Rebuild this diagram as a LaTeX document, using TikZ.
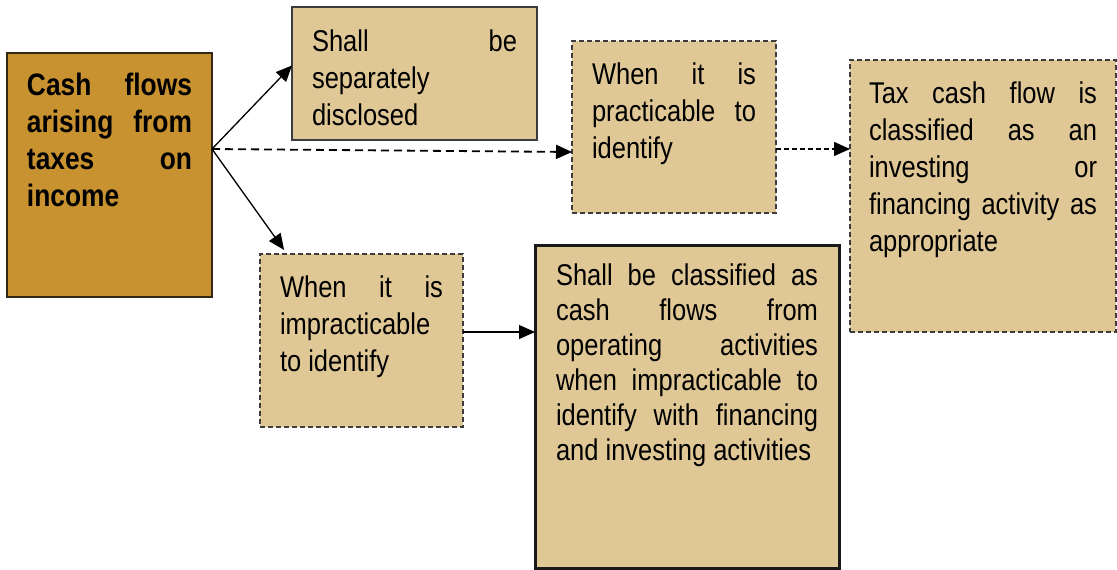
\documentclass[tikz,border=0pt]{standalone}
\usepackage{fontspec}
\setmainfont[FakeStretch=0.85]{Liberation Sans}
\usetikzlibrary{arrows.meta,calc}
\definecolor{gold}{RGB}{200,146,48}
\definecolor{sand}{RGB}{224,200,150}
\definecolor{edge}{RGB}{60,60,60}
\definecolor{darkedge}{RGB}{50,38,20}
\newcommand\boxtext[4]{\parbox[c][#2][t]{#1}{\rule{0pt}{#3}#4}}
\newcommand\J[1]{\makebox[\linewidth][s]{#1}}
\tikzset{
  boxbase/.style={anchor=north west, inner xsep=20pt, inner ysep=0pt, outer sep=0pt, fill=sand, text=black,
    font=\fontsize{30}{37}\selectfont},
  mainbox/.style={boxbase, fill=gold, draw=darkedge, line width=1.3pt, font=\fontsize{31}{37}\selectfont\bfseries},
  solidbox/.style={boxbase, draw=edge, line width=1.3pt},
  dashbox/.style={boxbase, draw=edge, line width=1.2pt, dash pattern=on 5pt off 3pt},
  thickbox/.style={boxbase, draw=black!90, line width=3pt, inner xsep=21pt, font=\fontsize{30}{35}\selectfont},
  arr/.style={-{Triangle[length=16pt,width=14pt]}, line width=1.3pt, black},
  dashmain/.style={dash pattern=on 8pt off 5pt, line width=1.8pt},
  dashfine/.style={dash pattern=on 5pt off 3pt, line width=1.3pt},
}
\begin{document}
\begin{tikzpicture}[x=1pt,y=-1pt]
\useasboundingbox (0,0) rectangle (1117,570);

\node[mainbox] (main) at (7,53) {\boxtext{165pt}{244pt}{42pt}{%
\J{Cash flows}\\\J{arising from}\\\J{taxes on}\\income}};

\node[solidbox] (shall) at (292,7) {\boxtext{205pt}{133pt}{44pt}{%
\J{Shall be}\\separately\\disclosed}};

\node[dashbox] (prac) at (572,41) {\boxtext{164pt}{172pt}{43pt}{%
\J{When it is}\\\J{practicable to}\\identify}};

\node[dashbox, inner xsep=19pt] (tax) at (850,60) {\boxtext{228pt}{272pt}{43pt}{%
\J{Tax cash flow is}\\\J{classified as an}\\\J{investing or}\\\J{financing activity as}\\appropriate}};

\node[dashbox] (impr) at (260,254) {\boxtext{163pt}{173pt}{43pt}{%
\J{When it is}\\impracticable\\to identify}};

\node[thickbox] (big) at (535,245) {\boxtext{262pt}{323pt}{40pt}{%
\J{Shall be classified as}\\\J{cash flows from}\\\J{operating activities}\\\J{when impracticable to}\\\J{identify with financing}\\and investing activities}};

\coordinate (src) at ([yshift=26pt]main.east);
\draw[arr] (src) -- ([yshift=8pt]shall.west);
\draw[arr, dashmain] (src) -- ([yshift=-25pt]prac.west);
\draw[arr, shorten >=5pt] (src) -- ([xshift=27pt]impr.north west);

\coordinate (p1) at ([yshift=-22pt]prac.east);
\draw[arr, dashfine] (p1) -- (p1 -| tax.west);

\coordinate (p2) at ([yshift=8.5pt]impr.east);
\draw[arr] (p2) -- (p2 -| big.west);
\end{tikzpicture}
\end{document}
